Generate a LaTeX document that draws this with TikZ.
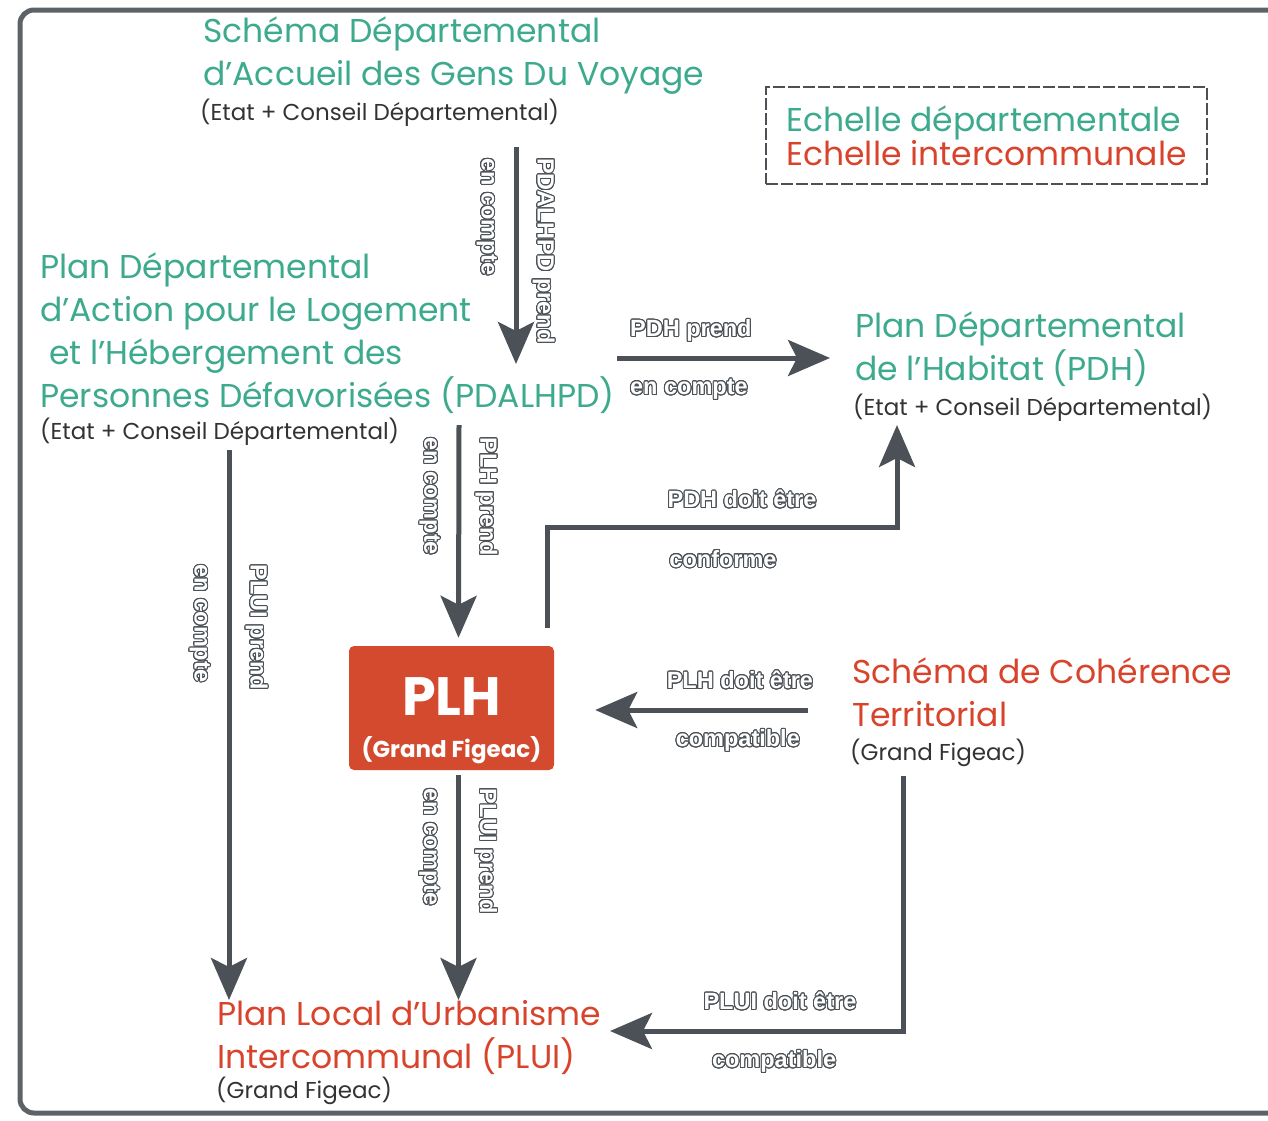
\documentclass[tikz,border=0pt]{standalone}
\usepackage{fontspec}
\setmainfont{Poppins}
\newfontfamily\lblfont{Liberation Sans}
\usepackage[copies]{contour}
\contourlength{1pt}
\contournumber{24}
\usetikzlibrary{arrows.meta, positioning}
\definecolor{dept}{HTML}{3DAA8E}
\definecolor{inter}{HTML}{D8442B}
\definecolor{plhred}{HTML}{D44A2E}
\definecolor{linegray}{HTML}{4B5156}
\definecolor{subgray}{HTML}{333333}
\newcommand{\lbl}[1]{{\color{white}\contour{linegray}{#1}}}
\tikzset{
  frame/.style    = {draw=linegray!90, line width=5pt, rounded corners=14pt},
  titledept/.style = {text=dept, font=\fontsize{33}{43}\selectfont,
                     align=left, anchor=north west, inner sep=0pt},
  titleinter/.style = {text=inter, font=\fontsize{33}{43}\selectfont,
                     align=left, anchor=north west, inner sep=0pt},
  subline/.style  = {text=subgray, font=\fontsize{23}{26}\selectfont,
                     anchor=west, inner sep=0pt},
  legendbox/.style = {draw=linegray, line width=2.5pt, dash pattern=on 12pt off 3pt,
                     minimum width=441pt, minimum height=97pt,
                     font=\fontsize{33}{34}\selectfont, align=left},
  plhbox/.style   = {fill=plhred, rounded corners=5pt, text=white,
                     minimum width=205pt, minimum height=124pt, align=center},
  flow/.style     = {-{Stealth[length=42pt, width=36pt, inset=9pt]},
                     draw=linegray, line width=5pt},
  lblfnt/.style   = {font=\lblfont\bfseries\fontsize{23.5}{26}\selectfont,
                     text height=18pt, text depth=5pt},
  lblr/.style     = {lblfnt, rotate=-90, anchor=south west, inner xsep=0pt, inner ysep=14pt},
  lbll/.style     = {lblfnt, rotate=-90, anchor=north west, inner xsep=0pt, inner ysep=14pt},
  lbla/.style     = {lblfnt, anchor=south, inner xsep=0pt, inner ysep=14pt},
  lblb/.style     = {lblfnt, anchor=north, inner xsep=0pt, inner ysep=16pt},
}
\begin{document}
\begin{tikzpicture}[x=1pt, y=-1pt]
  \useasboundingbox (0,0) rectangle (1268,1120);
  \path[frame] (20,10) rectangle (1300,1113);

  % Echelle departementale
  \node[titledept] (sda) at (203,16) {Schéma Départemental\\d'Accueil des Gens Du Voyage};
  \node[subline] (sdasub) at (200,113) {(Etat + Conseil Départemental)};
  \node[titledept] (pdal) at (40,252) {Plan Départemental\\d'Action pour le Logement\\\ et l'Hébergement des\\Personnes Défavorisées (PDALHPD)};
  \node[subline] (pdalsub) at (40,432) {(Etat + Conseil Départemental)};
  \node[titledept] (pdh) at (855,311) {Plan Départemental\\de l'Habitat (PDH)};
  \node[subline] (pdhsub) at (853,408) {(Etat + Conseil Départemental)};

  % Echelle intercommunale
  \node[plhbox] (plh) at (451.5,708) {\rule{0pt}{64pt}{\fontsize{54}{56}\selectfont\bfseries PLH}\\[20pt]{\fontsize{23}{26}\selectfont\bfseries (Grand Figeac)}};
  \node[titleinter] (scot) at (852,657) {Schéma de Cohérence\\Territorial};
  \node[subline] (scotsub) at (850,753) {(Grand Figeac)};
  \node[titleinter] (plui) at (217,1000) {Plan Local d'Urbanisme\\Intercommunal (PLUI)};
  \node[subline] (pluisub) at (216,1091) {(Grand Figeac)};

  % legende
  \node[legendbox] (leg) at (986.5,135.5) {{\color{dept}Echelle départementale}\\{\color{inter}Echelle intercommunale}};

  % connecteurs
  \coordinate (sdaout) at (516,147);
  \coordinate (pdalin) at (516,364);
  \draw[flow] (sdaout) -- (pdalin)
    node[lblr, pos=0.04] {\lbl{PDALHPD prend}}
    node[lbll, pos=0.04] {\lbl{en compte}};

  \coordinate (pdalright) at (617,358);
  \draw[flow] (pdalright) -- ([xshift=-25pt]pdh.west |- pdalright)
    node[lbla, anchor=south west, pos=0.05] {\lbl{PDH prend}}
    node[lblb, anchor=north west, pos=0.05] {\lbl{en compte}};

  \coordinate (pdalmid) at (459,425);
  \draw[flow] (pdalmid) -- ([xshift=7pt,yshift=8pt]plh.north)
    node[lblr, pos=0.047] {\lbl{PLH prend}}
    node[lbll, pos=0.047] {\lbl{en compte}};

  \coordinate (pdalleft) at (229,450);
  \draw[flow] (pdalleft) -- (pdalleft |- plui.north)
    node[lblr, pos=0.204] {\lbl{PLUI prend}}
    node[lbll, pos=0.204] {\lbl{en compte}};

  \draw[flow] ([xshift=7pt,yshift=-5pt]plh.south) -- ([xshift=7pt]plh.south |- plui.north)
    node[lblr, pos=0.047] {\lbl{PLUI prend}}
    node[lbll, pos=0.047] {\lbl{en compte}};

  \coordinate (pdhin) at (897,425);
  \draw[flow] ([xshift=-7pt,yshift=18pt]plh.north east) |- (pdhin |- 0,527) -- (pdhin);
  \node[lbla] at (742,527) {\lbl{PDH doit être}};
  \node[lblb, yshift=-6pt] at (723,527) {\lbl{conforme}};

  \coordinate (scotin) at (808,710);
  \draw[flow] (scotin) -- ([xshift=41pt]plh.east |- scotin)
    node[lbla, pos=0.32] {\lbl{PLH doit être}}
    node[lblb, pos=0.33] {\lbl{compatible}};

  \coordinate (scotout) at (903,776);
  \coordinate (pluiin) at (610,1031);
  \draw[flow] (scotout) |- (pluiin)
    node[lbla, pos=0.71] {\lbl{PLUI doit être}}
    node[lblb, pos=0.72] {\lbl{compatible}};
\end{tikzpicture}
\end{document}
